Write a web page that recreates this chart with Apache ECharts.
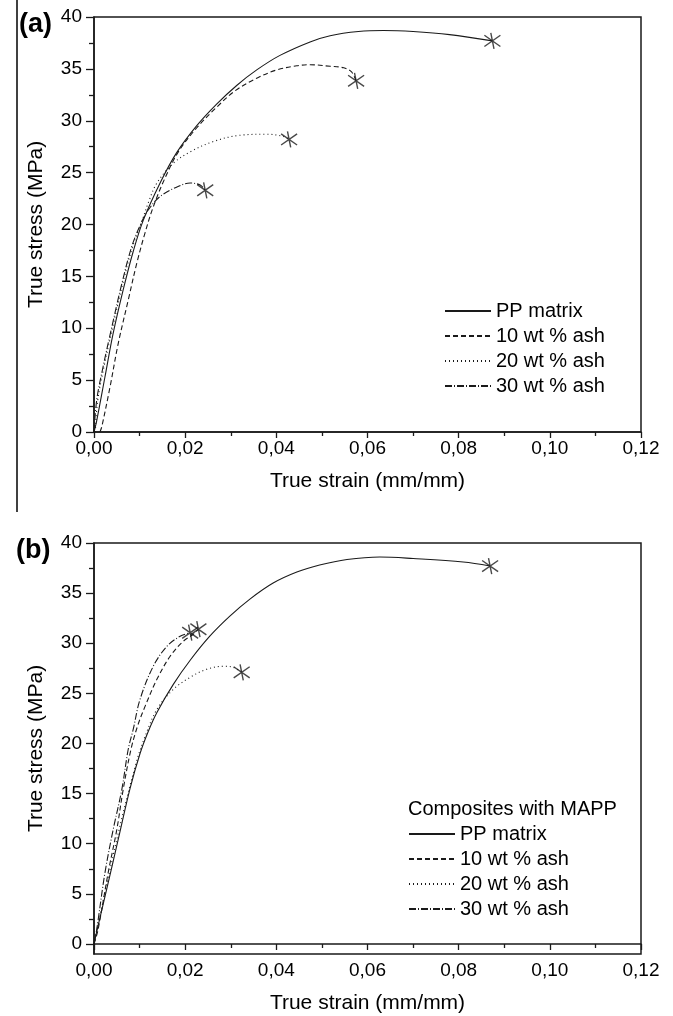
<!DOCTYPE html>
<html>
<head>
<meta charset="utf-8">
<title>True stress - true strain</title>
<script src="https://cdn.jsdelivr.net/npm/echarts@6/dist/echarts.min.js"></script>
<style>
    html, body { margin: 0; padding: 0; background: #fff; }
    #chart { width: 673px; height: 1016px; }
</style>
</head>
<body>
<div id="chart"></div>
<script>
// (a) composites without MAPP: [strain, stress]
var ppA = [[0,0],[0.0006,1.1],[0.0024,5.3],[0.0042,9.5],[0.0064,13.7],[0.0086,17.4],[0.0108,20.4],[0.0145,24.0],[0.0181,26.9],[0.0225,29.5],[0.0269,31.6],[0.0313,33.4],[0.0357,34.9],[0.0408,36.3],[0.0474,37.6],[0.0518,38.2],[0.058,38.6],[0.0635,38.7],[0.07,38.6],[0.078,38.3],[0.0874,37.7]];
var ash10A = [[0.0013,0],[0.0017,0.5],[0.0035,4.3],[0.0053,8.5],[0.0075,12.7],[0.0094,16.3],[0.0112,19.2],[0.013,21.7],[0.0155,24.4],[0.0185,27.0],[0.0225,29.3],[0.0269,31.3],[0.031,32.9],[0.0357,34.1],[0.0401,34.9],[0.0445,35.3],[0.0474,35.4],[0.0518,35.25],[0.0548,35.1],[0.0565,34.7],[0.0575,33.85]];
var ash20A = [[0.0003,0],[0.0008,3],[0.0022,6.3],[0.0041,10.1],[0.0063,14.3],[0.0085,17.9],[0.0105,20.3],[0.012,22.2],[0.0138,24.0],[0.0174,25.9],[0.0211,27.0],[0.0262,28.0],[0.032,28.6],[0.0379,28.7],[0.0415,28.5],[0.0428,28.2]];
var ash30A = [[0,0],[0.0006,3.1],[0.002,6.3],[0.0039,10.1],[0.0061,14.3],[0.0083,17.9],[0.0102,20.0],[0.0119,21.4],[0.0145,22.7],[0.0181,23.6],[0.0211,24.0],[0.0233,23.8],[0.0244,23.3]];

// (b) composites with MAPP
var ppB = [[0,0],[0.0002,0.45],[0.0028,5.5],[0.0053,10.4],[0.0079,15.5],[0.0101,19.0],[0.0119,21.2],[0.0138,23.1],[0.0174,25.9],[0.0211,28.3],[0.0254,30.7],[0.0298,32.7],[0.0342,34.4],[0.0393,36.0],[0.0445,37.1],[0.0495,37.8],[0.0555,38.35],[0.0627,38.6],[0.070,38.45],[0.081,38.1],[0.0869,37.7]];
var ash10B = [[0,0],[0.0009,1.45],[0.0031,7.1],[0.005,11.4],[0.0064,15.4],[0.0081,19.4],[0.0096,21.8],[0.0112,23.7],[0.0138,26.4],[0.0167,28.7],[0.0196,30.2],[0.0218,30.9],[0.0229,31.4]];
var ash20B = [[0,0],[0.0013,2.8],[0.0042,8.8],[0.0064,13.1],[0.0094,18.3],[0.0112,20.7],[0.0138,23.4],[0.0174,25.4],[0.0211,26.6],[0.0247,27.4],[0.0284,27.7],[0.0306,27.6],[0.0324,27.1]];
var ash30B = [[0,0],[0.0006,1.45],[0.0024,7.1],[0.0042,11.4],[0.0061,15.4],[0.0075,19.4],[0.0086,21.4],[0.0101,24.4],[0.013,27.7],[0.016,29.7],[0.0189,30.7],[0.0211,31.05]];

var names = ['PP matrix', '10 wt % ash', '20 wt % ash', '30 wt % ash'];
var dashes = ['solid', [5, 3], [1, 3], [7, 2, 1, 2]];
var yTicksB = [0, 5, 10, 15, 20, 25, 30, 35, 40];
var yMinorB = [2.5, 7.5, 12.5, 17.5, 22.5, 27.5, 32.5, 37.5];

var FONT = 'Liberation Sans';
var INK = '#1a1a1a';
var breakSymbol = 'path://M0,3L20,17M0,17L20,3M8,0L12,20';

function last(arr) { return arr[arr.length - 1]; }

function xAxisFor(grid) {
    return {
        type: 'value', gridIndex: grid, min: 0, max: 0.12, interval: 0.02,
        name: 'True strain (mm/mm)', nameLocation: 'middle', nameGap: 39,
        nameTextStyle: { fontFamily: FONT, fontSize: 21, color: '#000' },
        axisLine: { lineStyle: { color: INK, width: 1.5 } },
        axisTick: { inside: false, length: 6, lineStyle: { color: INK, width: 1.3 } },
        minorTick: { show: true, splitNumber: 2, length: 4, lineStyle: { color: INK, width: 1.3 } },
        splitLine: { show: false },
        axisLabel: {
            margin: 7, fontFamily: FONT, fontSize: 19, color: '#000',
            formatter: function (v) { return v.toFixed(2).replace('.', ','); }
        }
    };
}

var yName = {
    name: 'True stress (MPa)', nameLocation: 'middle', nameGap: 47,
    nameTextStyle: { fontFamily: FONT, fontSize: 21, color: '#000' }
};

function lineSeries(data, i, grid) {
    return {
        type: 'line', name: names[i], data: data, xAxisIndex: grid, yAxisIndex: grid === 0 ? 0 : 1,
        symbol: 'none', smooth: 0.35, silent: true,
        lineStyle: { color: INK, width: 1.1, type: dashes[i] },
        itemStyle: { color: INK }
    };
}

function breakSeries(list, grid) {
    return {
        type: 'scatter', name: 'break', xAxisIndex: grid, yAxisIndex: grid === 0 ? 0 : 1,
        data: list.map(last), symbol: breakSymbol, symbolSize: [16, 16], silent: true,
        itemStyle: { color: 'transparent', borderColor: INK, borderWidth: 1.4 }, z: 5
    };
}

function legendAt(left, top) {
    return {
        orient: 'vertical', left: left, top: top, itemWidth: 46, itemHeight: 10, itemGap: 5,
        data: names, selectedMode: false,
        itemStyle: { color: 'transparent', borderColor: 'transparent', opacity: 0 },
        textStyle: { fontFamily: FONT, fontSize: 20, color: '#000' }
    };
}

var chart = echarts.init(document.getElementById('chart'));
var option = {
    backgroundColor: '#fff',
    animation: false,
    title: [
        { text: '(a)', left: 14, top: 6, textStyle: { fontFamily: FONT, fontSize: 27, fontWeight: 'bold', color: '#000' } },
        { text: '(b)', left: 11, top: 532, textStyle: { fontFamily: FONT, fontSize: 27, fontWeight: 'bold', color: '#000' } },
        { text: 'Composites with MAPP', left: 403, top: 794, textStyle: { fontFamily: FONT, fontSize: 20, fontWeight: 'normal', color: '#000' } }
    ],
    graphic: [
        { type: 'line', shape: { x1: 17, y1: 0, x2: 17, y2: 512 }, style: { stroke: '#000', lineWidth: 1.5 } }
    ],
    legend: [legendAt(439, 296), legendAt(403, 819)],
    grid: [
        { left: 94, right: 32, top: 17, bottom: 584, show: true, borderColor: INK, borderWidth: 1.5 },
        { left: 94, right: 32, top: 543, bottom: 62, show: true, borderColor: INK, borderWidth: 1.5 }
    ],
    xAxis: [xAxisFor(0), xAxisFor(1)],
    yAxis: [
        Object.assign({
            type: 'value', gridIndex: 0, min: 0, max: 40, interval: 5,
            axisLine: { lineStyle: { color: INK, width: 1.5 } },
            axisTick: { inside: false, length: 8, lineStyle: { color: INK, width: 1.3 } },
            minorTick: { show: true, splitNumber: 2, length: 5, lineStyle: { color: INK, width: 1.3 } },
            splitLine: { show: false },
            axisLabel: { margin: 12, fontFamily: FONT, fontSize: 19, color: '#000' }
        }, yName),
        Object.assign({
            type: 'value', gridIndex: 1, min: -1, max: 40,
            axisLine: { lineStyle: { color: INK, width: 1.5 } },
            axisTick: { inside: false, length: 8, customValues: yTicksB, lineStyle: { color: INK, width: 1.3 } },
            splitLine: { show: false },
            axisLabel: { margin: 12, customValues: yTicksB, fontFamily: FONT, fontSize: 19, color: '#000' }
        }, yName),
        {
            type: 'value', gridIndex: 1, min: -1, max: 40, position: 'left',
            axisLine: { show: false },
            axisTick: { inside: false, length: 5, customValues: yMinorB, lineStyle: { color: INK, width: 1.3 } },
            axisLabel: { show: false },
            splitLine: { show: false }
        }
    ],
    series: [
        lineSeries(ppA, 0, 0), lineSeries(ash10A, 1, 0), lineSeries(ash20A, 2, 0), lineSeries(ash30A, 3, 0),
        breakSeries([ppA, ash10A, ash20A, ash30A], 0),
        lineSeries(ppB, 0, 1), lineSeries(ash10B, 1, 1), lineSeries(ash20B, 2, 1), lineSeries(ash30B, 3, 1),
        breakSeries([ppB, ash10B, ash20B, ash30B], 1)
    ]
};
chart.setOption(option);
</script>
</body>
</html>
